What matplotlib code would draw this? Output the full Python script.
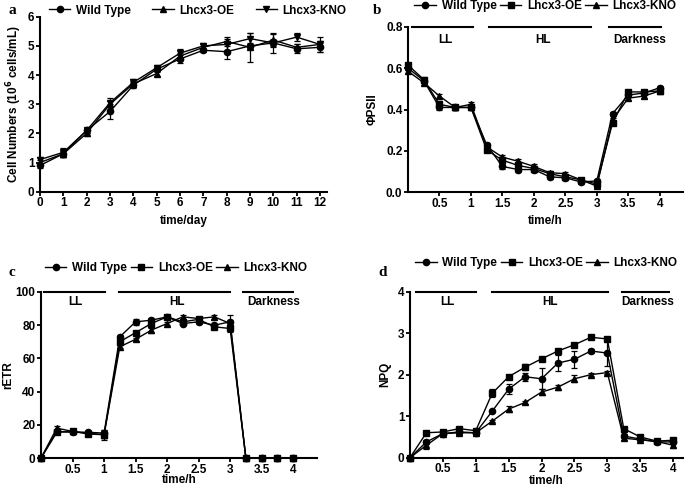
import matplotlib
matplotlib.use("Agg")
from matplotlib import pyplot as plt
from matplotlib.lines import Line2D
import numpy as np

plt.rcParams["font.family"] = ["Liberation Sans", "DejaVu Sans"]
plt.rcParams["font.weight"] = "bold"
plt.rcParams["font.size"] = 8

# Panel a: growth curve
days = list(range(13))
cells_wt = [0.9, 1.3, 2.1, 2.75, 3.65, 4.2, 4.55, 4.85, 4.8, 5.0, 5.1, 4.9, 4.95]
cells_oe = [1.0, 1.3, 2.0, 3.0, 3.7, 4.05, 4.65, 4.95, 5.15, 4.95, 5.2, 4.95, 5.05]
cells_kno = [1.1, 1.35, 2.1, 3.05, 3.75, 4.25, 4.75, 5.0, 5.05, 5.25, 5.1, 5.3, 5.05]
cells_wt_err = [0.1, 0.1, 0.1, 0.25, 0.1, 0.1, 0.15, 0.05, 0.25, 0.1, 0.15, 0.15, 0.15]
cells_oe_err = [0.1, 0.1, 0.1, 0.1, 0.1, 0.1, 0.1, 0.1, 0.15, 0.5, 0.2, 0.1, 0.1]
cells_kno_err = [0.1, 0.15, 0.1, 0.15, 0.1, 0.1, 0.15, 0.1, 0.2, 0.2, 0.35, 0.15, 0.25]

# Panels b-d: light shift time course
hours = [0, 0.25, 0.5, 0.75, 1, 1.25, 1.5, 1.75, 2, 2.25, 2.5, 2.75, 3, 3.25, 3.5, 3.75, 4]

psii_wt = [0.60, 0.54, 0.41, 0.41, 0.41, 0.23, 0.125, 0.11, 0.11, 0.075, 0.07, 0.05, 0.055, 0.38, 0.47, 0.48, 0.505]
psii_oe = [0.615, 0.545, 0.425, 0.41, 0.41, 0.205, 0.155, 0.13, 0.115, 0.09, 0.075, 0.06, 0.04, 0.335, 0.485, 0.485, 0.49]
psii_kno = [0.585, 0.53, 0.465, 0.41, 0.425, 0.22, 0.17, 0.15, 0.125, 0.095, 0.09, 0.06, 0.03, 0.35, 0.455, 0.465, 0.49]
psii_err = [0.01] * 17

etr_wt = [0, 16, 15.5, 15.5, 15, 73, 82, 83, 85, 81, 82, 80, 82, 0, 0, 0, 0]
etr_oe = [0, 15.5, 16, 14.5, 14, 70, 75.5, 81, 85, 82, 83.5, 79, 78, 0, 0, 0, 0]
etr_kno = [0, 18, 16, 15, 14, 67, 71.5, 77, 81, 85, 84, 85, 81, 0, 0, 0, 0]
etr_wt_err = [0, 1, 1, 1, 2, 1, 2, 1.5, 1, 1, 1, 1, 4, 0, 0, 0, 0]
etr_oe_err = [0, 1, 1, 1, 2, 1.5, 1, 1.5, 1, 1, 1, 1, 2, 0, 0, 0, 0]
etr_kno_err = [0, 1, 1, 1, 3, 1, 1, 1.5, 1, 1, 1, 1, 2, 0, 1, 0, 1]

npq_wt = [0, 0.38, 0.58, 0.62, 0.6, 1.12, 1.65, 1.95, 1.9, 2.28, 2.37, 2.57, 2.52, 0.52, 0.45, 0.38, 0.38]
npq_oe = [0, 0.6, 0.62, 0.7, 0.65, 1.55, 1.95, 2.18, 2.38, 2.57, 2.72, 2.9, 2.86, 0.7, 0.5, 0.4, 0.42]
npq_kno = [0, 0.3, 0.58, 0.6, 0.6, 0.88, 1.17, 1.33, 1.58, 1.7, 1.9, 2.0, 2.05, 0.47, 0.43, 0.39, 0.3]
npq_wt_err = [0, 0.05, 0.04, 0.04, 0.04, 0.03, 0.12, 0.1, 0.25, 0.2, 0.2, 0.05, 0.3, 0.05, 0.03, 0.03, 0.03]
npq_oe_err = [0, 0.03, 0.04, 0.05, 0.04, 0.1, 0.03, 0.08, 0.03, 0.04, 0.04, 0.04, 0.04, 0.04, 0.03, 0.03, 0.04]
npq_kno_err = [0, 0.08, 0.04, 0.05, 0.04, 0.03, 0.08, 0.03, 0.07, 0.06, 0.08, 0.03, 0.03, 0.04, 0.03, 0.03, 0.06]

labels = ["Wild Type", "Lhcx3-OE", "Lhcx3-KNO"]
hour_ticks = [0.5, 1, 1.5, 2, 2.5, 3, 3.5, 4]
hour_ticklabels = ["0.5", "1", "1.5", "2", "2.5", "3", "3.5", "4"]

fig = plt.figure(figsize=(6.85, 4.87), dpi=100)


def style_axes(ax):
    for side in ["top", "right"]:
        ax.spines[side].set_visible(False)
    for side in ["left", "bottom"]:
        ax.spines[side].set_linewidth(1.5)
    ax.tick_params(direction="out", length=3, width=1.3, labelsize=8.5, pad=1)


def draw(ax, x, series, errs, markers):
    for y, e, m in zip(series, errs, markers):
        ax.errorbar(x, y, yerr=e, color="black", marker=m, markersize=4.5, lw=1,
                    elinewidth=0.9, capsize=2.5, capthick=0.9, clip_on=False, zorder=3)


def periods(ax, y_bar, y_txt, spans, names, txt_x):
    for (x0, x1), name, tx in zip(spans, names, txt_x):
        ax.plot([x0, x1], [y_bar, y_bar], color="black", lw=1.5, clip_on=False)
        ax.text(tx, y_txt, name, ha="center", va="center", fontsize=8.5, fontweight="bold")


def legend(ax, markers, x, y, spacing):
    handles = [Line2D([], [], color="black", lw=1, marker=m, markersize=4.5) for m in markers]
    ax.legend(handles, labels, loc="center", bbox_to_anchor=(x, y), ncol=3, frameon=False,
              fontsize=8.5, handlelength=1.8, handletextpad=0.5, columnspacing=spacing,
              borderaxespad=0, borderpad=0)


# a
ax = fig.add_axes([0.0584, 0.6064, 0.419, 0.3593])
style_axes(ax)
draw(ax, days, [cells_wt, cells_oe, cells_kno], [cells_wt_err, cells_oe_err, cells_kno_err], ["o", "^", "v"])
ax.set_xlim(0, 12.3)
ax.set_ylim(0, 6)
ax.set_xticks(days)
ax.set_yticks(range(7))
ax.set_xlabel("time/day", fontsize=8.5, fontweight="bold", labelpad=4)
ax.set_ylabel("Cell Numbers (10$^{\\mathbf{6}}$ cells/mL)", fontsize=8.5, fontweight="bold", labelpad=3)
legend(ax, ["o", "^", "v"], 0.55, 1.035, 1.8)
fig.text(0.012, 0.978, "a", family="Liberation Serif", fontsize=11, fontweight="bold", va="center")

# b
ax = fig.add_axes([0.5956, 0.6051, 0.4015, 0.340])
style_axes(ax)
draw(ax, hours, [psii_wt, psii_oe, psii_kno], [psii_err] * 3, ["o", "s", "^"])
ax.set_xlim(0, 4.37)
ax.set_ylim(0, 0.8)
ax.set_xticks(hour_ticks)
ax.set_xticklabels(hour_ticklabels)
ax.set_yticks([0, 0.2, 0.4, 0.6, 0.8])
ax.set_yticklabels(["0.0", "0.2", "0.4", "0.6", "0.8"])
ax.set_xlabel("time/h", fontsize=8.5, fontweight="bold", labelpad=4)
ax.set_ylabel("ΦPSII", fontsize=8.5, fontweight="bold", labelpad=5)
periods(ax, 0.8, 0.736, [(0.07, 1.04), (1.28, 2.91), (3.19, 4.02)], ["LL", "HL", "Darkness"], [0.6, 2.15, 3.68])
legend(ax, ["o", "s", "^"], 0.5, 1.125, 0.3)
fig.text(0.545, 0.978, "b", family="Liberation Serif", fontsize=11, fontweight="bold", va="center")

# c
ax = fig.add_axes([0.0599, 0.0595, 0.403, 0.341])
style_axes(ax)
draw(ax, hours, [etr_wt, etr_oe, etr_kno], [etr_wt_err, etr_oe_err, etr_kno_err], ["o", "s", "^"])
ax.set_xlim(0, 4.38)
ax.set_ylim(0, 100)
ax.set_xticks(hour_ticks)
ax.set_xticklabels(hour_ticklabels)
ax.set_yticks(range(0, 101, 20))
ax.set_xlabel("time/h", fontsize=8.5, fontweight="bold", labelpad=-1)
ax.set_ylabel("rETR", fontsize=8.5, fontweight="bold", labelpad=1)
periods(ax, 100, 93.8, [(0.04, 1.02), (1.23, 3.0), (3.21, 4.0)], ["LL", "HL", "Darkness"], [0.54, 2.15, 3.69])
legend(ax, ["o", "s", "^"], 0.49, 1.143, 0.3)
fig.text(0.012, 0.441, "c", family="Liberation Serif", fontsize=11, fontweight="bold", va="center")

# d
ax = fig.add_axes([0.5985, 0.0602, 0.3985, 0.341])
style_axes(ax)
draw(ax, hours, [npq_wt, npq_oe, npq_kno], [npq_wt_err, npq_oe_err, npq_kno_err], ["o", "s", "^"])
ax.set_xlim(0, 4.15)
ax.set_ylim(0, 4)
ax.set_xticks(hour_ticks)
ax.set_xticklabels(hour_ticklabels)
ax.set_yticks(range(5))
ax.set_xlabel("time/h", fontsize=8.5, fontweight="bold", labelpad=0)
ax.set_ylabel("NPQ", fontsize=8.5, fontweight="bold", labelpad=5)
periods(ax, 4, 3.76, [(0.09, 1.01), (1.25, 3.01), (3.22, 3.94)], ["LL", "HL", "Darkness"], [0.57, 2.13, 3.62])
legend(ax, ["o", "s", "^"], 0.5, 1.17, 0.3)
fig.text(0.552, 0.44, "d", family="Liberation Serif", fontsize=11, fontweight="bold", va="center")

plt.savefig("out.png", dpi=100)
